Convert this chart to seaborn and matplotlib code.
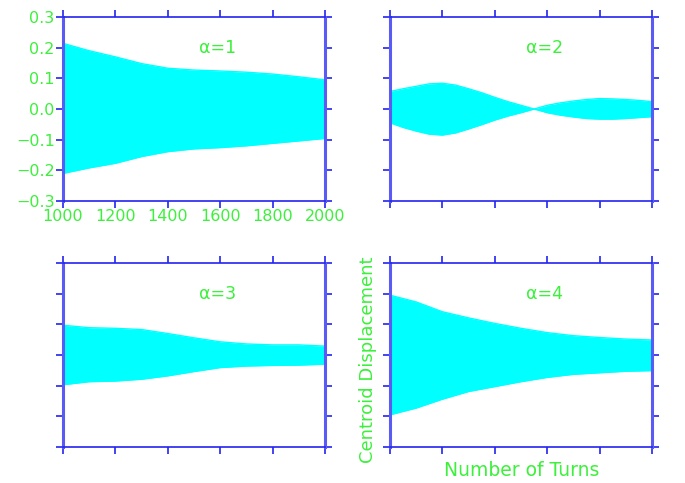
import matplotlib
matplotlib.use("Agg")
import matplotlib.pyplot as plt
import numpy as np
import pandas as pd
import seaborn as sns

# envelope of the centroid oscillation
turns = [1000, 1100, 1200, 1300, 1400, 1500, 1600, 1700, 1800, 1900, 2000]
upper_a1 = [0.214, 0.190, 0.170, 0.148, 0.133, 0.127, 0.124, 0.120, 0.114, 0.105, 0.095]
lower_a1 = [-0.210, -0.192, -0.177, -0.155, -0.139, -0.130, -0.126, -0.120, -0.112, -0.104, -0.096]
turns_a2 = [1000, 1050, 1100, 1150, 1200, 1250, 1300, 1350, 1400, 1450, 1500, 1550,
            1600, 1650, 1700, 1750, 1800, 1850, 1900, 1950, 2000]
upper_a2 = [0.057, 0.066, 0.074, 0.082, 0.084, 0.078, 0.066, 0.053, 0.038, 0.024, 0.012, 0.0,
            0.012, 0.020, 0.026, 0.031, 0.034, 0.033, 0.031, 0.028, 0.024]
lower_a2 = [-0.045, -0.060, -0.072, -0.082, -0.085, -0.078, -0.065, -0.051, -0.036, -0.023, -0.012, 0.0,
            -0.012, -0.020, -0.026, -0.031, -0.033, -0.033, -0.031, -0.028, -0.025]
upper_a3 = [0.097, 0.089, 0.087, 0.083, 0.070, 0.056, 0.043, 0.036, 0.033, 0.033, 0.029]
lower_a3 = [-0.097, -0.087, -0.085, -0.079, -0.068, -0.054, -0.041, -0.036, -0.034, -0.033, -0.030]
upper_a4 = [0.195, 0.173, 0.141, 0.121, 0.103, 0.087, 0.073, 0.063, 0.057, 0.052, 0.049]
lower_a4 = [-0.195, -0.173, -0.144, -0.119, -0.103, -0.087, -0.073, -0.063, -0.058, -0.053, -0.051]

x_ticks = [1000, 1200, 1400, 1600, 1800, 2000]
y_ticks = [-0.3, -0.2, -0.1, 0.0, 0.1, 0.2, 0.3]
labels = ["α=1", "α=2", "α=3", "α=4"]

GREEN = "#3cf03c"
BLUE = "#2424f0"
SIDE_BLUE = "#5a5af5"
CYAN = "#00ffff"

sns.set_theme(style="white")
plt.rcParams["font.family"] = ["DejaVu Sans"]

fig = plt.figure(figsize=(6.85, 4.83), dpi=100)
boxes = [
    [63/685, 1-201/483, 262/685, 184/483],
    [390/685, 1-201/483, 262/685, 184/483],
    [63/685, 1-447/483, 262/685, 184/483],
    [390/685, 1-447/483, 262/685, 184/483],
]
series = [
    (turns, upper_a1, lower_a1),
    (turns_a2, upper_a2, lower_a2),
    (turns, upper_a3, lower_a3),
    (turns, upper_a4, lower_a4),
]

for i, (box, (xs, up, lo)) in enumerate(zip(boxes, series)):
    ax = fig.add_axes(box)
    df = pd.DataFrame({"turn": xs, "upper": up, "lower": lo})
    ax.fill_between(df["turn"], df["lower"], df["upper"], color=CYAN, lw=0)
    sns.lineplot(data=df, x="turn", y="upper", ax=ax, color=CYAN, lw=1)
    sns.lineplot(data=df, x="turn", y="lower", ax=ax, color=CYAN, lw=1)
    ax.set_xlim(1000, 2000); ax.set_ylim(-0.3, 0.3)
    ax.set_xticks(x_ticks); ax.set_yticks(y_ticks)
    ax.set_xlabel(""); ax.set_ylabel("")
    for side, sp in ax.spines.items():
        if side in ("left", "right"):
            sp.set_color(SIDE_BLUE); sp.set_linewidth(2.2)
        else:
            sp.set_color(BLUE); sp.set_linewidth(1.2)
    ax.tick_params(which="both", direction="out", length=5, width=1.2, color=BLUE,
                   top=True, right=True, bottom=True, left=True,
                   labelcolor=GREEN, labelsize=11.5, pad=1)
    if i != 0:
        ax.set_xticklabels([]); ax.set_yticklabels([])
    else:
        ax.set_yticklabels([f"{v:.1f}".replace("-", "\u2212") for v in y_ticks])
    ax.text(1590, 0.2, labels[i], color=GREEN, fontsize=12.5, ha="center", va="center")

fig.text(368/685, 1-360/483, "Centroid Displacement", rotation=90, color=GREEN,
         fontsize=13, ha="center", va="center")
fig.text(522/685, 1-470/483, "Number of Turns", color=GREEN,
         fontsize=13.5, ha="center", va="center")

plt.savefig("out.png", dpi=100)
plt.close()
